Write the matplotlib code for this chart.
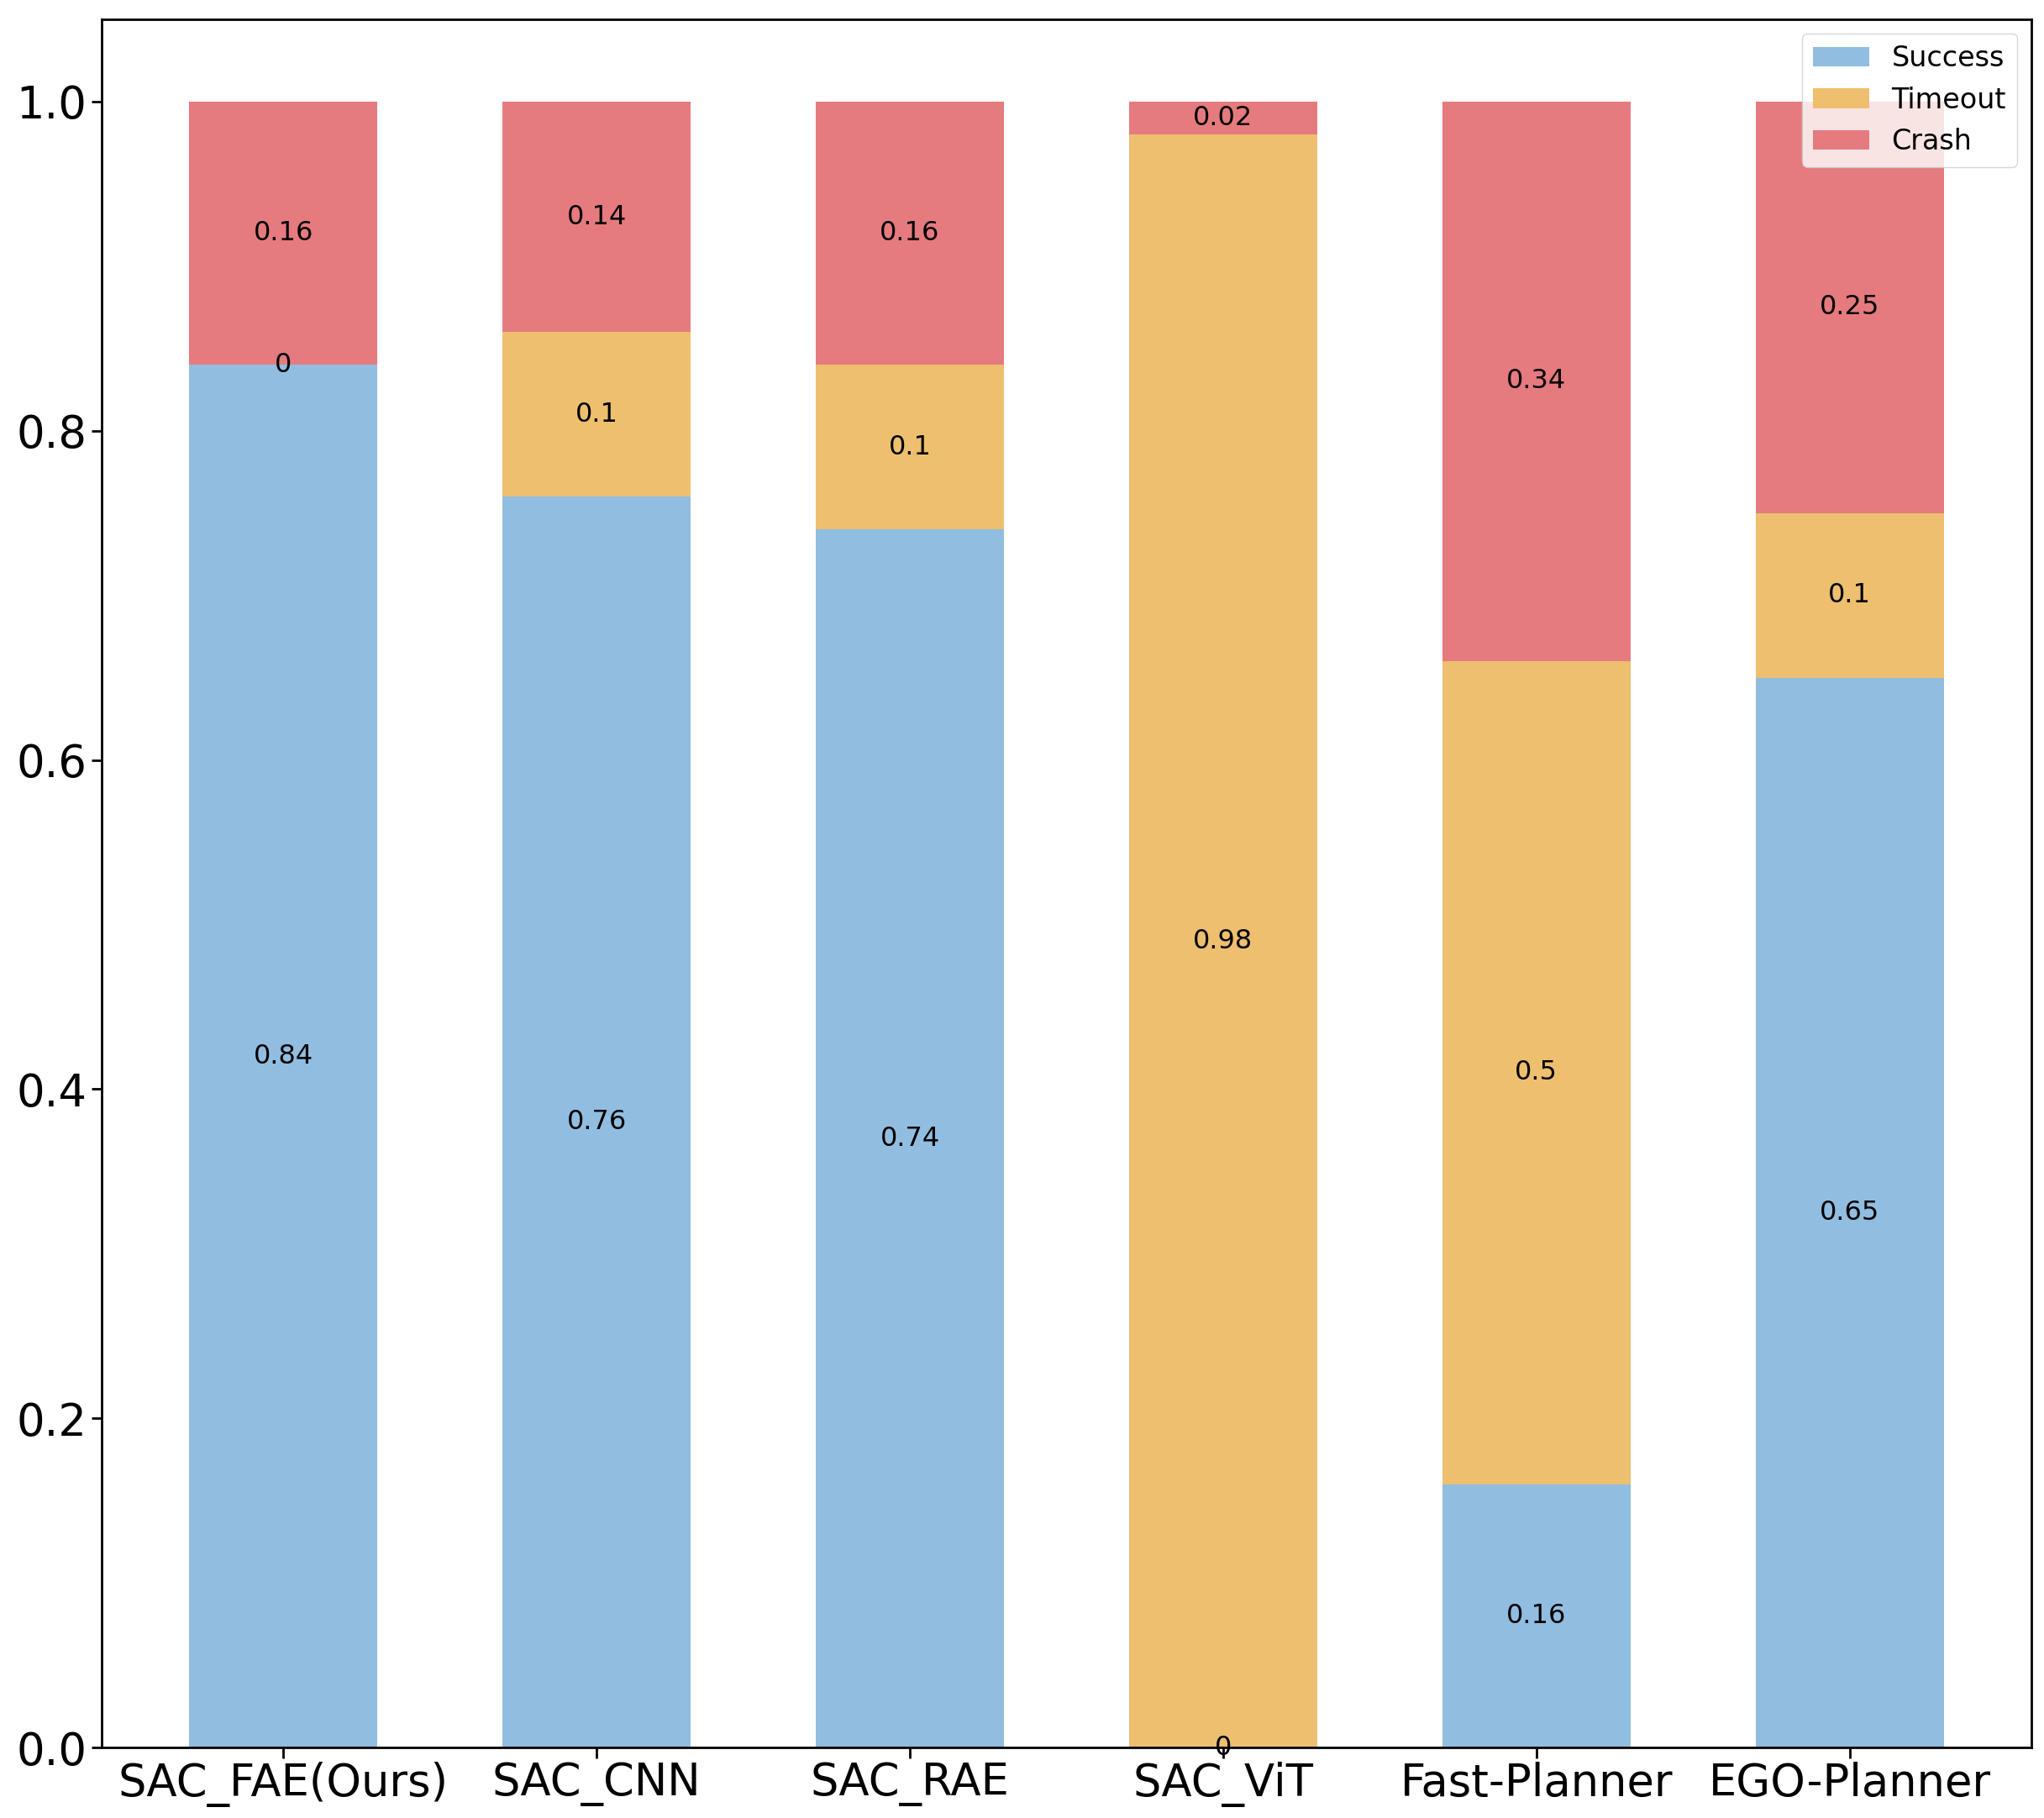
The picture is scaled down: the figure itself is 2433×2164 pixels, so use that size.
import matplotlib
matplotlib.use("Agg")
import matplotlib.pyplot as plt
import numpy as np

methods = ["SAC_FAE(Ours)", "SAC_CNN", "SAC_RAE", "SAC_ViT", "Fast-Planner", "EGO-Planner"]
success = [0.84, 0.76, 0.74, 0, 0.16, 0.65]
timeout = [0, 0.1, 0.1, 0.98, 0.5, 0.1]
crash = [0.16, 0.14, 0.16, 0.02, 0.34, 0.25]

c_success = "#91BDE0"
c_timeout = "#EDBF6F"
c_crash = "#E57B7E"

fig = plt.figure(figsize=(24.33, 21.64), dpi=100)
ax = fig.add_axes([0.0497, 0.0388, 0.9441, 0.9506])

x = np.arange(len(methods))
w = 0.6
b1 = ax.bar(x, success, w, color=c_success, label="Success")
b2 = ax.bar(x, timeout, w, bottom=success, color=c_timeout, label="Timeout")
bottom2 = np.array(success) + np.array(timeout)
b3 = ax.bar(x, crash, w, bottom=bottom2, color=c_crash, label="Crash")

for b in (b1, b2, b3):
    ax.bar_label(b, label_type="center", fontsize=23)

ax.set_xticks(x)
ax.set_xticklabels(methods)
ax.set_ylim(0, 1.05)
ax.tick_params(axis="both", labelsize=38, length=9, width=2)
for s in ax.spines.values():
    s.set_linewidth(2)

ax.legend(loc="upper right", fontsize=24)

fig.savefig("out.png", dpi=100)
